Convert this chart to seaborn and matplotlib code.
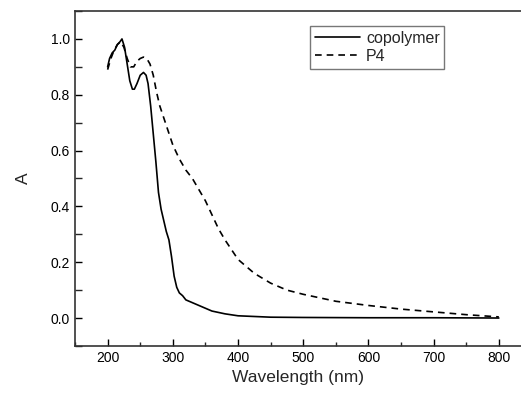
import matplotlib
matplotlib.use('Agg')
import matplotlib.pyplot as plt
import seaborn as sns
from matplotlib.ticker import MultipleLocator

# Valores (comprimento de onda em nm, absorbância normalizada)
copolymer_wl = [200, 203, 207, 211, 215, 219, 222, 226, 230, 234, 238, 241, 245, 250,
                255, 259, 262, 266, 270, 274, 278, 282, 286, 290, 294, 298, 302, 306,
                310, 315, 320, 330, 340, 350, 360, 380, 400, 450, 500, 600, 700, 800]
copolymer_a = [0.90, 0.93, 0.95, 0.96, 0.98, 0.99, 1.00, 0.97, 0.91, 0.85, 0.82, 0.82, 0.84, 0.87,
               0.88, 0.87, 0.84, 0.76, 0.66, 0.56, 0.45, 0.39, 0.35, 0.31, 0.28, 0.22, 0.15, 0.11,
               0.09, 0.08, 0.065, 0.055, 0.045, 0.035, 0.025, 0.015, 0.008, 0.003, 0.002, 0.001, 0.001, 0.0]

p4_wl = [200, 205, 210, 215, 220, 225, 230, 235, 240, 245, 250, 255, 260, 265, 270, 275,
         280, 290, 300, 310, 320, 330, 340, 350, 360, 370, 380, 400, 425, 450, 475, 500,
         550, 600, 650, 700, 750, 800]
p4_a = [0.89, 0.93, 0.96, 0.98, 0.99, 0.97, 0.93, 0.90, 0.90, 0.92, 0.93, 0.935, 0.93, 0.91, 0.87, 0.81,
        0.76, 0.69, 0.62, 0.57, 0.53, 0.50, 0.46, 0.42, 0.37, 0.32, 0.28, 0.21, 0.16, 0.125, 0.10, 0.085,
        0.06, 0.045, 0.032, 0.022, 0.012, 0.004]

sns.set_style('ticks')
plt.rcParams['font.family'] = ['Liberation Sans', 'DejaVu Sans']

fig = plt.figure(figsize=(5.21, 3.94), dpi=100)
ax = fig.add_axes([0.144, 0.122, 0.856, 0.850])

sns.lineplot(x=copolymer_wl, y=copolymer_a, ax=ax, color='black', linewidth=1.2,
             label='copolymer')
sns.lineplot(x=p4_wl, y=p4_a, ax=ax, color='black', linewidth=1.2, linestyle=(0, (4, 3)),
             label='P4')

ax.set_xlim(150, 834)
ax.set_ylim(-0.1, 1.1)
ax.xaxis.set_minor_locator(MultipleLocator(50))
ax.yaxis.set_minor_locator(MultipleLocator(0.1))
ax.set_yticks([0.0, 0.2, 0.4, 0.6, 0.8, 1.0])
ax.set_xticks([200, 300, 400, 500, 600, 700, 800])
ax.tick_params(which='major', direction='in', length=5, width=1, labelsize=10, colors='black')
ax.tick_params(which='minor', direction='in', length=3, width=1)
ax.tick_params(axis='y', which='minor', length=5)

for side in ['left', 'bottom', 'top']:
    ax.spines[side].set_linewidth(1.2)
    ax.spines[side].set_color('#333333')
ax.spines['right'].set_visible(False)

ax.set_xlabel('Wavelength (nm)', fontsize=12.5)
ax.set_ylabel('A', fontsize=12.5, labelpad=14)

ax.legend(loc='upper left', bbox_to_anchor=(0.527, 0.955), borderaxespad=0,
          frameon=True, fancybox=False, edgecolor='#555555', fontsize=11.5,
          handlelength=2.8, borderpad=0.3, labelspacing=0.2, handletextpad=0.4)

fig.savefig('out.png', dpi=100)
